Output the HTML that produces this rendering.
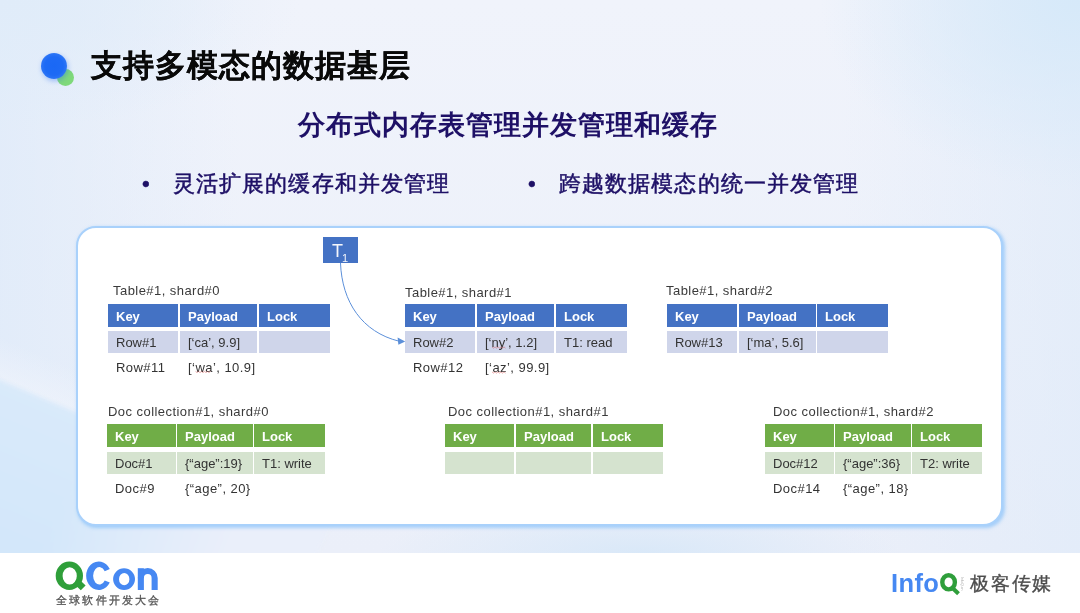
<!DOCTYPE html>
<html><head><meta charset="utf-8">
<style>
*{margin:0;padding:0;box-sizing:border-box}
html,body{width:1080px;height:613px;overflow:hidden;background:#fff}
body{position:relative;font-family:"Liberation Sans",sans-serif}
.abs,.cell,.txt,.t1{will-change:transform}
.bg{position:absolute;left:0;top:0;width:1080px;height:553px;overflow:hidden;
 background:
 radial-gradient(260px 190px at 1080px 0px, rgba(214,233,249,1), rgba(214,233,249,0)),
 radial-gradient(300px 130px at 0px 0px, rgba(224,236,249,1), rgba(224,236,249,0)),
 radial-gradient(260px 50px at 640px 553px, rgba(214,231,248,.85), rgba(214,231,248,0)),
 linear-gradient(90deg, rgba(222,234,249,.75) 0%, rgba(222,234,249,0) 22%, rgba(222,234,249,0) 78%, rgba(222,234,249,.6) 100%),
 linear-gradient(180deg,#f0f3fb 0%,#edf1fa 60%,#ebeff9 100%)}
.wedge{filter:blur(2px);position:absolute;left:-200px;top:380px;width:560px;height:420px;transform-origin:200px 0;transform:rotate(23deg);
 background:linear-gradient(90deg, rgba(234,239,250,0) 0%, rgba(234,239,250,0) 55%, rgba(234,239,250,1) 85%),linear-gradient(180deg,#d9eafa 0%,#cfe5fa 60%)}
.wedge2{position:absolute;left:-200px;top:340px;width:500px;height:60px;transform-origin:200px 40px;transform:rotate(23deg);
 background:linear-gradient(180deg, rgba(240,244,252,0), rgba(240,244,252,.8) 80%, rgba(240,244,252,0) 100%)}
.abs{position:absolute;white-space:nowrap}
.dotb{position:absolute;left:41px;top:53px;width:26px;height:26px;border-radius:50%;background:radial-gradient(circle,#1a68f5 0%,#1d6af5 50%,#2c75f6 70%,#3479f6 100%);box-shadow:1px 2px 5px rgba(40,110,246,.4);z-index:2}
.dotg{position:absolute;left:57px;top:69px;width:17px;height:17px;border-radius:50%;background:#7fd97a;z-index:1}
.title{-webkit-text-stroke:0.2px #0a0a0a;left:91px;top:46px;font-size:31px;letter-spacing:1px;font-weight:bold;color:#0a0a0a;line-height:40px}
.sub{left:298px;top:107px;font-size:27px;letter-spacing:1px;font-weight:bold;color:#1e1066;line-height:36px}
.bul{-webkit-text-stroke:0.5px #1e1066;font-size:22px;letter-spacing:1.1px;color:#1e1066;line-height:28px}
.card{position:absolute;left:76px;top:226px;width:927px;height:300px;border-radius:20px;background:#fff;
 border:2px solid #a9d1fb;box-shadow:1.5px 1.5px 3.5px rgba(110,180,250,.55)}
.lbl{font-size:13px;letter-spacing:0.45px;color:#3a3a3a;line-height:16px}
.cell{position:absolute;font-size:13px;line-height:23px;padding-left:8px;white-space:nowrap}
.hb{background:#4472c4;color:#fff;font-weight:bold;line-height:25px}
.rb{background:#cfd5ea;color:#333}
.hg{background:#70ad47;color:#fff;font-weight:bold;line-height:26px}
.rg{background:#d5e3cf;color:#333}
.txt{position:absolute;font-size:13px;letter-spacing:0.45px;color:#333;line-height:16px;white-space:nowrap}
.t1{position:absolute;left:323px;top:237px;width:35px;height:26px;background:#4472c4;color:#f4f6fb;font-size:18px;line-height:28px;padding-left:9px}
.t1 sub{font-size:11px;vertical-align:-5px;line-height:0;margin-left:-1px}
</style></head><body>
<div class="bg"><div class="wedge2"></div><div class="wedge"></div></div>
<div class="dotg"></div><div class="dotb"></div>
<div class="abs title">支持多模态的数据基层</div>
<div class="abs sub">分布式内存表管理并发管理和缓存</div>
<div class="abs bul" style="left:142px;top:170px">•</div>
<div class="abs bul" style="left:173px;top:170px">灵活扩展的缓存和并发管理</div>
<div class="abs bul" style="left:528px;top:170px">•</div>
<div class="abs bul" style="left:559px;top:170px">跨越数据模态的统一并发管理</div>

<div class="card"></div>

<!-- Table shard0 -->
<div class="abs lbl" style="left:113px;top:283px">Table#1, shard#0</div>
<div class="cell hb" style="left:108px;top:304px;width:70px;height:23px">Key</div>
<div class="cell hb" style="left:180px;top:304px;width:77px;height:23px">Payload</div>
<div class="cell hb" style="left:259px;top:304px;width:71px;height:23px">Lock</div>
<div class="cell rb" style="left:108px;top:331px;width:70px;height:22px">Row#1</div>
<div class="cell rb" style="left:180px;top:331px;width:77px;height:22px">[‘ca’, 9.9]</div>
<div class="cell rb" style="left:259px;top:331px;width:71px;height:22px"></div>
<div class="txt" style="left:116px;top:360px">Row#11</div>
<div class="txt" style="left:188px;top:360px">[‘wa’, 10.9]</div>

<!-- Table shard1 -->
<div class="abs lbl" style="left:405px;top:285px">Table#1, shard#1</div>
<div class="cell hb" style="left:405px;top:304px;width:70px;height:23px">Key</div>
<div class="cell hb" style="left:477px;top:304px;width:77px;height:23px">Payload</div>
<div class="cell hb" style="left:556px;top:304px;width:71px;height:23px">Lock</div>
<div class="cell rb" style="left:405px;top:331px;width:70px;height:22px">Row#2</div>
<div class="cell rb" style="left:477px;top:331px;width:77px;height:22px">[‘ny’, 1.2]</div>
<div class="cell rb" style="left:556px;top:331px;width:71px;height:22px">T1: read</div>
<div class="txt" style="left:413px;top:360px">Row#12</div>
<div class="txt" style="left:485px;top:360px">[‘az’, 99.9]</div>

<!-- Table shard2 -->
<div class="abs lbl" style="left:666px;top:283px">Table#1, shard#2</div>
<div class="cell hb" style="left:667px;top:304px;width:70px;height:23px">Key</div>
<div class="cell hb" style="left:739px;top:304px;width:77px;height:23px">Payload</div>
<div class="cell hb" style="left:817px;top:304px;width:71px;height:23px">Lock</div>
<div class="cell rb" style="left:667px;top:331px;width:70px;height:22px">Row#13</div>
<div class="cell rb" style="left:739px;top:331px;width:77px;height:22px">[‘ma’, 5.6]</div>
<div class="cell rb" style="left:817px;top:331px;width:71px;height:22px"></div>

<!-- Doc shard0 -->
<div class="abs lbl" style="left:108px;top:404px">Doc collection#1, shard#0</div>
<div class="cell hg" style="left:107px;top:424px;width:69px;height:23px">Key</div>
<div class="cell hg" style="left:177px;top:424px;width:76px;height:23px">Payload</div>
<div class="cell hg" style="left:254px;top:424px;width:71px;height:23px">Lock</div>
<div class="cell rg" style="left:107px;top:452px;width:69px;height:22px">Doc#1</div>
<div class="cell rg" style="left:177px;top:452px;width:76px;height:22px">{“age”:19}</div>
<div class="cell rg" style="left:254px;top:452px;width:71px;height:22px">T1: write</div>
<div class="txt" style="left:115px;top:481px">Doc#9</div>
<div class="txt" style="left:185px;top:481px">{“age”, 20}</div>

<!-- Doc shard1 -->
<div class="abs lbl" style="left:448px;top:404px">Doc collection#1, shard#1</div>
<div class="cell hg" style="left:445px;top:424px;width:69px;height:23px">Key</div>
<div class="cell hg" style="left:516px;top:424px;width:75px;height:23px">Payload</div>
<div class="cell hg" style="left:593px;top:424px;width:70px;height:23px">Lock</div>
<div class="cell rg" style="left:445px;top:452px;width:69px;height:22px"></div>
<div class="cell rg" style="left:516px;top:452px;width:75px;height:22px"></div>
<div class="cell rg" style="left:593px;top:452px;width:70px;height:22px"></div>

<!-- Doc shard2 -->
<div class="abs lbl" style="left:773px;top:404px">Doc collection#1, shard#2</div>
<div class="cell hg" style="left:765px;top:424px;width:69px;height:23px">Key</div>
<div class="cell hg" style="left:835px;top:424px;width:76px;height:23px">Payload</div>
<div class="cell hg" style="left:912px;top:424px;width:70px;height:23px">Lock</div>
<div class="cell rg" style="left:765px;top:452px;width:69px;height:22px">Doc#12</div>
<div class="cell rg" style="left:835px;top:452px;width:76px;height:22px">{“age”:36}</div>
<div class="cell rg" style="left:912px;top:452px;width:70px;height:22px">T2: write</div>
<div class="txt" style="left:773px;top:481px">Doc#14</div>
<div class="txt" style="left:843px;top:481px">{“age”, 18}</div>

<!-- T1 + arrow -->
<div class="t1">T<sub>1</sub></div>
<svg class="abs" style="left:0;top:0" width="1080" height="613">
 <path d="M340.5 263 C 342 302, 362 332, 399 341.2" fill="none" stroke="#5b8fd9" stroke-width="1"/>
 <path d="M405.2 341.4 L397.6 337.6 L398.4 344.8 Z" fill="#5b8fd9"/>
 <polyline points="195.5,371.4 197.0,372.6 198.5,371.4 200.0,372.6 201.5,371.4 203.0,372.6 204.5,371.4 206.0,372.6 207.5,371.4 209.0,372.6 210.5,371.4" fill="none" stroke="rgba(210,70,70,.55)" stroke-width="0.8"/><polyline points="492.0,346.9 493.5,348.1 495.0,346.9 496.5,348.1 498.0,346.9 499.5,348.1 501.0,346.9 502.5,348.1 504.0,346.9 505.5,348.1" fill="none" stroke="rgba(210,70,70,.55)" stroke-width="0.8"/><polyline points="492.0,371.9 493.5,373.1 495.0,371.9 496.5,373.1 498.0,371.9 499.5,373.1 501.0,371.9 502.5,373.1 504.0,371.9 505.5,373.1" fill="none" stroke="rgba(210,70,70,.55)" stroke-width="0.8"/>
</svg>

<!-- footer -->
<svg class="abs" style="left:0;top:553px" width="1080" height="60" viewBox="0 553 1080 60">
 <path fill="#2f9f3a" fill-rule="evenodd" d="M55.7 575.75 A13.65 14.15 0 1 0 83 575.75 A13.65 14.15 0 1 0 55.7 575.75 Z M62.6 575.9 A7.1 8.7 0 1 0 76.8 575.9 A7.1 8.7 0 1 0 62.6 575.9 Z"/>
 <path fill="#2f9f3a" d="M73.8 583.8 L78.6 578.8 L85.6 585.6 L80.8 590.3 Z"/>
 <path fill="#4688f2" d="M109.8 569 A12.6 14.2 0 1 0 109.8 582.6 L104.75 580.4 A6.3 8.7 0 1 1 104.75 571.2 Z"/>
 <path fill="#4688f2" fill-rule="evenodd" d="M113.1 579.1 A10.95 10.9 0 1 0 135 579.1 A10.95 10.9 0 1 0 113.1 579.1 Z M119 579.15 A5.2 6.15 0 1 0 129.4 579.15 A5.2 6.15 0 1 0 119 579.15 Z"/>
 <path fill="#4688f2" d="M137.8 577.95 A9.95 9.95 0 0 1 157.7 577.95 V590 H151.6 V577.95 A3.85 3.85 0 0 0 143.9 577.95 V590 H137.8 Z"/>
 <rect x="137.8" y="568.2" width="6.1" height="10" fill="#4688f2"/>
</svg>
<div class="abs" style="left:56px;top:593px;font-size:11px;color:#555;-webkit-text-stroke:0.3px #555;line-height:14px;letter-spacing:2.2px">全球软件开发大会</div>
<div class="abs" style="left:891px;top:566px;font-size:25.5px;font-weight:bold;line-height:34px;letter-spacing:0.4px;color:#4688f2">Info</div>
<svg class="abs" style="left:930px;top:565px" width="40" height="35" viewBox="930 565 40 35">
 <ellipse cx="948.6" cy="582.3" rx="6.3" ry="7.1" fill="none" stroke="#2f9e3b" stroke-width="4.4"/>
 <path d="M951.5 587 L958.5 593.8" stroke="#2f9e3b" stroke-width="4" fill="none"/>
 <text x="960.5" y="577" font-size="3.6" fill="#aaa" transform="rotate(90 960.5 577)" font-family="Liberation Sans">InfoQ.cn</text>
</svg>
<div class="abs" style="left:970px;top:569px;font-size:19px;color:#4d4d4d;-webkit-text-stroke:0.35px #4d4d4d;line-height:30px;letter-spacing:1.8px">极客传媒</div>
</body></html>
